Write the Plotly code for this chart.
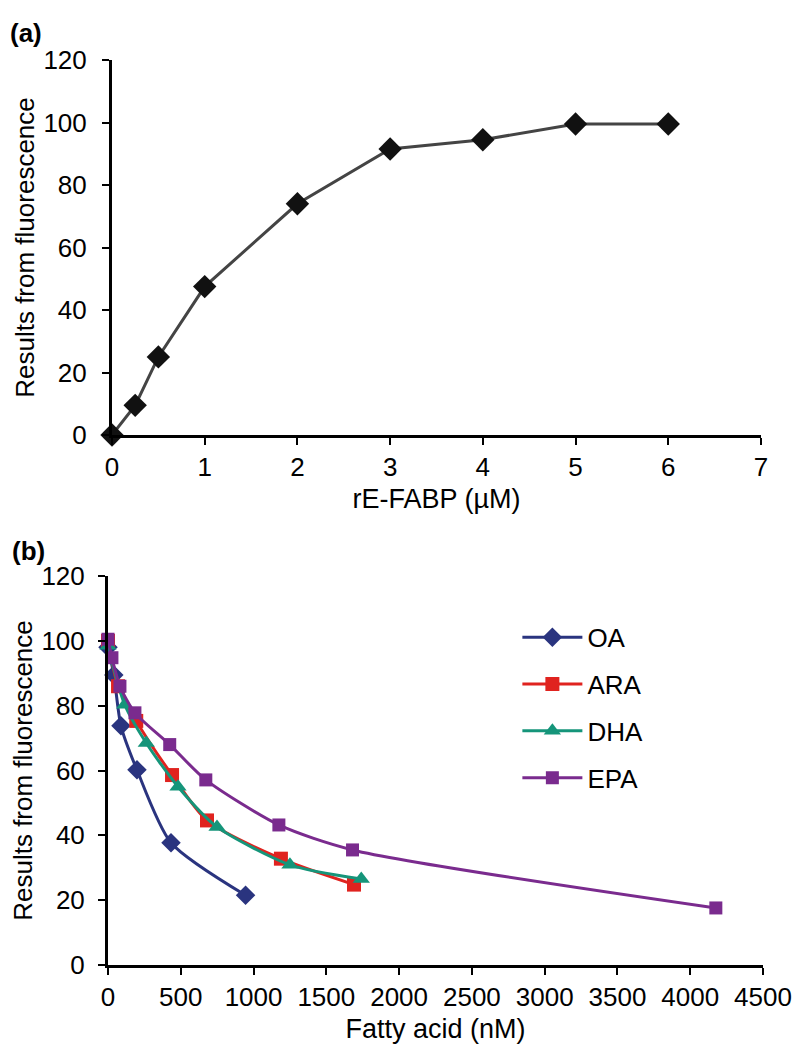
import plotly.graph_objects as go

# Panel (a)
a_x = [0, 0.25, 0.5, 1, 2, 3, 4, 5, 6]
a_y = [0, 9.5, 25, 47.5, 74, 91.5, 94.5, 99.5, 99.5]

# Panel (b)
oa_x = [0, 40, 89, 199, 433, 945]
oa_y = [98, 89.5, 73.8, 60.2, 37.7, 21.5]
ara_x = [0, 69, 194, 440, 680, 1188, 1690]
ara_y = [100, 86, 75.3, 58.6, 44.6, 32.8, 24.8]
dha_x = [0, 115, 263, 481, 749, 1250, 1740]
dha_y = [98.5, 80.3, 68.5, 55, 42.6, 30.9, 26.5]
epa_x = [0, 27, 82, 185, 424, 672, 1174, 1680, 4176]
epa_y = [100.5, 94.8, 86, 77.8, 68, 57.1, 43.2, 35.5, 17.6]

x_a_ticks = [0, 1, 2, 3, 4, 5, 6, 7]
x_b_ticks = [0, 500, 1000, 1500, 2000, 2500, 3000, 3500, 4000, 4500]
y_ticks = [0, 20, 40, 60, 80, 100, 120]

FONT = "Liberation Sans, Arial, Helvetica, sans-serif"

fig = go.Figure()

fig.add_trace(go.Scatter(
    x=a_x, y=a_y, mode="lines+markers", xaxis="x", yaxis="y",
    line=dict(color="#444444", width=3),
    marker=dict(symbol="diamond", size=18, color="#111111"),
    showlegend=False, cliponaxis=False))

series = [
    ("OA", oa_x, oa_y, "#2a347f", "diamond", 15),
    ("ARA", ara_x, ara_y, "#e0231f", "square", 14),
    ("DHA", dha_x, dha_y, "#15957a", "triangle-up", 15),
    ("EPA", epa_x, epa_y, "#7a2b8e", "square", 13),
]
for name, xs, ys, col, sym, sz in series:
    fig.add_trace(go.Scatter(
        x=xs, y=ys, mode="lines+markers", name=name, xaxis="x2", yaxis="y2",
        line=dict(color=col, width=3, shape="spline", smoothing=0.7),
        marker=dict(symbol=sym, size=sz, color=col),
        legendgroup=name, cliponaxis=False))

axis_common = dict(
    showline=True, linecolor="black", linewidth=3,
    ticks="outside", ticklen=7, tickwidth=2, tickcolor="black",
    showgrid=False, zeroline=False,
    tickfont=dict(family=FONT, size=26, color="black"),
)

fig.update_layout(
    width=807, height=1050,
    margin=dict(l=100, r=52, t=52, b=93),
    paper_bgcolor="white", plot_bgcolor="white",
    font=dict(family=FONT, color="black"),
    xaxis=dict(domain=[0.0061, 0.9969], anchor="y", range=[0, 7],
               tickvals=x_a_ticks, ticklabelstandoff=0,
               title=dict(text="rE-FABP (µM)", font=dict(size=27), standoff=8),
               **axis_common),
    yaxis=dict(domain=[0.5856, 1.0], anchor="x", range=[0, 120],
               tickvals=y_ticks, ticklabelstandoff=10,
               title=dict(text="Results from fluorescence", font=dict(size=26), standoff=2),
               **axis_common),
    xaxis2=dict(domain=[0.0, 1.0], anchor="y2", range=[0, 4500],
                tickvals=x_b_ticks, ticklabelstandoff=0,
                title=dict(text="Fatty acid (nM)", font=dict(size=27), standoff=8),
                **axis_common),
    yaxis2=dict(domain=[0.0, 0.4298], anchor="x2", range=[0, 120],
                tickvals=y_ticks, ticklabelstandoff=8,
                title=dict(text="Results from fluorescence", font=dict(size=26), standoff=2),
                **axis_common),
    legend=dict(x=0.625, y=0.388, xanchor="left", yanchor="top",
                font=dict(family=FONT, size=26, color="black"),
                bgcolor="rgba(0,0,0,0)", tracegroupgap=10, itemwidth=60),
    annotations=[
        dict(text="<b>(a)</b>", xref="paper", yref="paper", x=-0.152, y=1.03,
             xanchor="left", yanchor="middle", showarrow=False,
             font=dict(family=FONT, size=26, color="black")),
        dict(text="<b>(b)</b>", xref="paper", yref="paper", x=-0.149, y=0.458,
             xanchor="left", yanchor="middle", showarrow=False,
             font=dict(family=FONT, size=26, color="black")),
    ],
)

fig.write_html("out.html")
